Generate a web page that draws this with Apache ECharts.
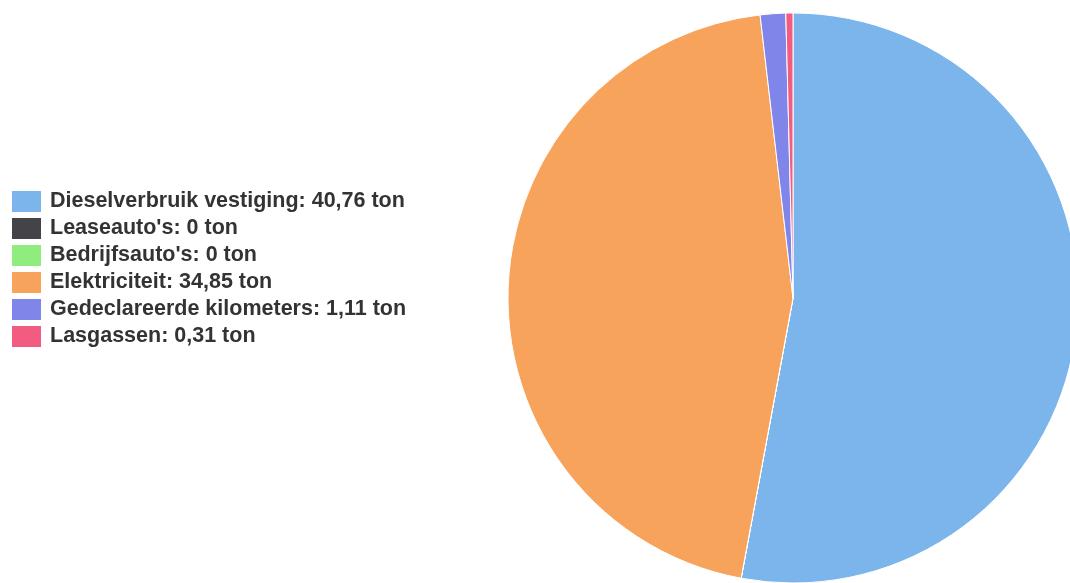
<!DOCTYPE html>
<html><head><meta charset="utf-8">
<script src="https://cdn.jsdelivr.net/npm/echarts@6/dist/echarts.min.js"></script>
<style>html,body{margin:0;padding:0;background:#fff}#c{width:1070px;height:583px}</style>
</head><body><div id="c"></div>
<script>
const categories = ["Dieselverbruik vestiging","Leaseauto's","Bedrijfsauto's","Elektriciteit","Gedeclareerde kilometers","Lasgassen"];
const values = [40.76, 0, 0, 34.85, 1.11, 0.31];
const colors = ["#7cb5ec","#434348","#90ed7d","#f7a35c","#8085e9","#f15c80"];
const unit = "ton";
const fmt = v => String(v).replace('.', ',');
const chart = echarts.init(document.getElementById('c'), null, {renderer:'canvas'});
chart.setOption({
  animation:false,
  color: colors,
  legend:{
    orient:'vertical', left:10, top:189, padding:0,
    icon:'rect', itemWidth:31, itemHeight:23, itemGap:2,
    textStyle:{fontFamily:'Liberation Sans', fontWeight:'bold', fontSize:21.5, lineHeight:21, color:'#333', padding:[0,0,0,3]},
    formatter: name => name + ': ' + fmt(values[categories.indexOf(name)]) + ' ' + unit,
    data: categories
  },
  series:[{
    type:'pie', center:[793,298], radius:285, startAngle:90, clockwise:true,
    label:{show:false}, labelLine:{show:false},
    itemStyle:{borderColor:'#fff', borderWidth:1},
    emphasis:{disabled:true},
    data: categories.map((c,i)=>({name:c, value:values[i]}))
  }]
});
</script></body></html>
